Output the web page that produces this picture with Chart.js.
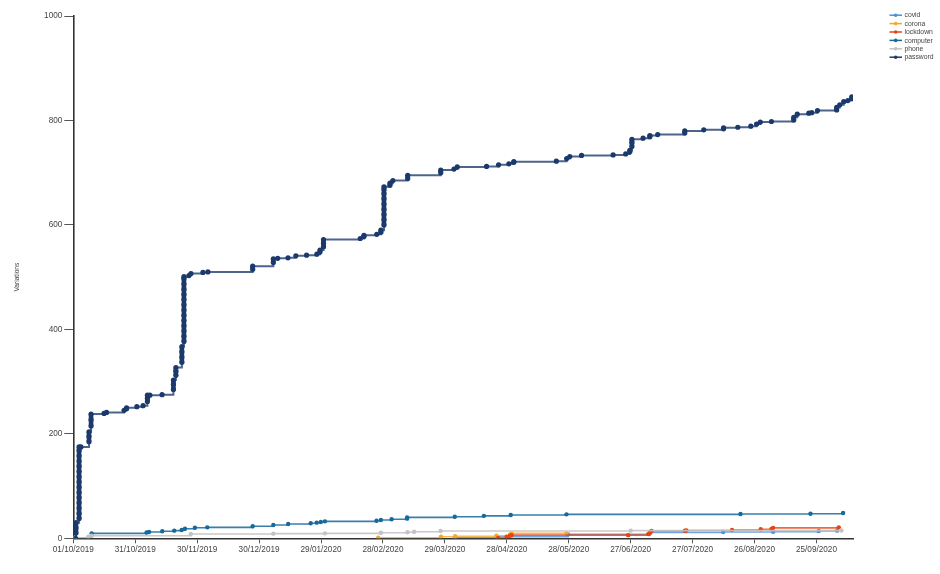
<!DOCTYPE html>
<html>
<head>
<meta charset="utf-8">
<script src="https://cdn.jsdelivr.net/npm/chart.js@4.4.1/dist/chart.umd.min.js"></script>
<style>
  html, body { margin: 0; padding: 0; background: #ffffff; }
  #wrap { width: 940px; height: 574px; position: relative; }
</style>
</head>
<body>
<div id="wrap"><canvas id="c" width="940" height="574"></canvas></div>
<script>
// ---- Data (x = days since 01/10/2019) ----
const seriesNames = ['covid', 'corona', 'lockdown', 'computer', 'phone', 'password'];

const covidDays   = [184.8, 205.0, 239.7, 279.0, 279.5, 314.8, 339.0, 361.1, 370.0];
const covidValues = [1, 3, 7.5, 8, 11, 12, 12.5, 14, 14.6];

const coronaDays   = [147.7, 178.1, 185.0, 205.0, 211.5, 212.3, 238.9];
const coronaValues = [1, 3, 4, 5, 7, 9.5, 9.5];

const lockdownDays   = [205.8, 209.9, 211.5, 212.3, 268.8, 278.5, 279.3, 280.1, 296.2, 297.0, 319.1, 333.0, 338.2, 339.0, 370.8];
const lockdownValues = [0.5, 3, 5, 6, 6, 8, 11, 14, 14.5, 15, 16, 17.2, 18, 20, 21];

const computerDays   = [0.8, 8.9, 35.5, 36.7, 43.1, 48.9, 52.5, 54.1, 58.9, 64.9, 86.9, 96.9, 104.1, 115.0, 117.9, 119.9, 121.9, 146.9, 149.0, 154.2, 161.7, 161.7, 184.8, 198.9, 211.9, 238.9, 323.2, 357.1, 372.9];
const computerValues = [1, 9.5, 11, 12, 13.4, 14.6, 16, 18.4, 20.3, 21, 23, 25.5, 27.4, 28.7, 30, 31.2, 32.5, 33.7, 35, 36.4, 37.6, 40, 41.4, 43, 44.6, 45.9, 46.5, 47, 48.4];

const phoneDays   = [0.8, 7.3, 8.9, 56.9, 96.9, 121.9, 149.0, 161.9, 165.1, 177.9, 270.0, 372.1];
const phoneValues = [1, 3, 5, 8.2, 8.9, 9.5, 10.5, 11.5, 12.5, 14, 14.6, 14.8];

const passwordDays = [
  1.1, 1.3, 1.3, 1.3,
  2.8, 2.8, 2.8, 2.8, 2.8, 2.8, 2.8, 2.8, 2.8, 2.8, 2.8, 2.8, 2.8, 2.8, 2.8,
  3.7, 7.6, 7.6, 7.6, 8.6, 8.6, 8.6,
  14.9, 16.1, 24.6, 25.8, 25.8, 30.8, 33.8,
  35.9, 35.9, 35.9, 37.1, 43.0,
  48.5, 48.5, 48.5, 49.7, 49.7, 49.7,
  52.6, 52.6, 52.6, 52.6,
  53.6, 53.6, 53.6, 53.6, 53.6, 53.6, 53.6, 53.6, 53.6, 53.6, 53.6, 53.6, 53.6, 53.6,
  56.0, 57.0, 62.8, 65.2, 86.9, 86.9,
  96.9, 96.9, 99.0, 104.0, 107.8, 113.0, 118.0, 119.5, 119.5,
  121.2, 121.2, 121.2, 139.0, 140.8, 140.8, 147.0, 149.0, 149.0,
  150.5, 150.5, 150.5, 150.5, 150.5, 150.5, 150.5, 150.5, 150.5,
  153.4, 153.4, 154.8, 162.0, 162.0,
  178.0, 178.0, 184.4, 186.0, 200.2, 206.0, 211.0, 213.4, 213.4,
  234.0, 239.0, 240.5, 246.2, 261.5, 267.6, 269.6, 269.6, 270.6, 270.6, 270.6,
  276.0, 279.3, 279.3, 283.1, 296.2, 296.2, 305.4, 315.0, 315.0,
  321.9, 328.2, 331.0, 332.8, 338.2, 349.0, 349.0, 350.7,
  356.3, 357.7, 360.5, 369.8, 369.8, 371.3, 373.2, 375.2, 377.1, 377.1
];
const passwordValues = [
  0, 10, 20, 30,
  38, 48, 58, 68, 78, 88, 98, 108, 118, 128, 138, 148, 158, 168, 175,
  175, 185, 195, 204, 215, 227, 238,
  239, 241, 245, 248, 250, 252, 254,
  262, 268, 274, 274, 275,
  285, 295, 303, 312, 320, 327,
  337, 347, 357, 367,
  377, 387, 397, 407, 417, 427, 437, 447, 457, 467, 477, 487, 497, 501,
  503, 507, 509, 510, 515, 521,
  528, 535, 536, 537, 541, 542, 544, 548, 552,
  558, 565, 572, 574, 578, 580, 582, 586, 590,
  600, 610, 620, 630, 640, 650, 660, 668, 673,
  676, 680, 685, 689, 695,
  700, 705, 707, 711, 712, 715, 717, 720, 721,
  722, 727, 731, 733, 734, 736, 740, 743, 750, 758, 764,
  766, 769, 771, 773, 776, 780, 782, 784, 786,
  787, 789, 793, 797, 798, 801, 806, 812,
  814, 815, 819, 820, 825, 830, 836, 838, 842, 845
];

const xTickDays   = [0, 30, 60, 90, 120, 150, 180, 210, 240, 270, 300, 330, 360];
const xTickLabels = ['01/10/2019', '31/10/2019', '30/11/2019', '30/12/2019', '29/01/2020', '28/02/2020',
                     '29/03/2020', '28/04/2020', '28/05/2020', '27/06/2020', '27/07/2020', '26/08/2020', '25/09/2020'];
const yTicks = [0, 200, 400, 600, 800, 1000];
const yTitle = 'Variations';

// ---- Styling ----
const colors = ['#4a8fe0', '#f6a72a', '#e8430e', '#17699b', '#c3c3c3', '#1b3a6b'];
const lineAlpha = ['rgba(74,143,224,0.8)', 'rgba(246,167,42,0.8)', 'rgba(232,67,14,0.8)',
                   'rgba(23,105,155,0.85)', 'rgba(195,195,195,0.9)', 'rgba(27,58,107,0.78)'];

const daysList = [covidDays, coronaDays, lockdownDays, computerDays, phoneDays, passwordDays];
const valsList = [covidValues, coronaValues, lockdownValues, computerValues, phoneValues, passwordValues];

const datasets = seriesNames.map((name, i) => ({
  label: name,
  data: daysList[i].map((d, k) => ({ x: d, y: valsList[i][k] })),
  stepped: true,
  borderColor: lineAlpha[i],
  backgroundColor: colors[i],
  pointBackgroundColor: colors[i],
  pointBorderWidth: 0,
  pointRadius: i === 5 ? 2.6 : 2.2,
  borderWidth: i === 5 ? 2 : 1.6,
  segment: {
    borderWidth: ctx => (ctx.p0.parsed.x === ctx.p1.parsed.x ? (i === 5 ? 4.6 : 3) : (i === 5 ? 2 : 1.6)),
    borderColor: ctx => (ctx.p0.parsed.x === ctx.p1.parsed.x ? colors[i] : lineAlpha[i])
  },
  fill: false,
  order: seriesNames.length - i
}));

const FONT = '"Liberation Sans", Arial, sans-serif';

const legendPlugin = {
  id: 'sideLegend',
  afterDraw(chart) {
    const ctx = chart.ctx;
    ctx.save();
    seriesNames.forEach((name, i) => {
      const y = 15.2 + i * 8.4;
      ctx.strokeStyle = colors[i];
      ctx.lineWidth = 1.5;
      ctx.beginPath();
      ctx.moveTo(889.5, y);
      ctx.lineTo(902, y);
      ctx.stroke();
      ctx.fillStyle = colors[i];
      ctx.beginPath();
      ctx.arc(895.7, y, 1.8, 0, Math.PI * 2);
      ctx.fill();
      ctx.fillStyle = '#444';
      ctx.font = '6.8px ' + FONT;
      ctx.textBaseline = 'middle';
      ctx.textAlign = 'left';
      ctx.fillText(name, 904.5, y + 0.3);
    });
    ctx.restore();
  }
};

new Chart(document.getElementById('c'), {
  type: 'line',
  data: { datasets },
  options: {
    responsive: false,
    animation: false,
    events: [],
    layout: { padding: { left: 0, right: 87, top: 16, bottom: 0 } },
    plugins: { legend: { display: false }, tooltip: { enabled: false } },
    scales: {
      x: {
        type: 'linear',
        min: 0,
        max: 377.7,
        afterBuildTicks(scale) { scale.ticks = xTickDays.map(v => ({ value: v })); },
        afterFit(scale) { scale.height = 35.7; },
        ticks: {
          autoSkip: false,
          maxRotation: 0,
          padding: 2,
          color: '#444',
          font: { family: FONT, size: 8.2 },
          callback: (v) => { const k = xTickDays.indexOf(v); return k >= 0 ? xTickLabels[k] : ''; }
        },
        grid: { drawOnChartArea: false, drawTicks: true, tickLength: 5, color: '#555', lineWidth: 1 },
        border: { display: true, color: '#333', width: 1.6 }
      },
      y: {
        min: 0,
        max: 1000,
        afterBuildTicks(scale) { scale.ticks = yTicks.map(v => ({ value: v })); },
        afterFit(scale) { scale.width = 73.3; },
        ticks: {
          padding: 2,
          color: '#444',
          font: { family: FONT, size: 8.2 },
          callback: (v) => String(v)
        },
        title: {
          display: true,
          text: yTitle,
          color: '#444',
          font: { family: FONT, size: 6.6 },
          padding: { top: 13, bottom: 0 }
        },
        grid: { drawOnChartArea: false, drawTicks: true, tickLength: 9, color: '#555', lineWidth: 1 },
        border: { display: true, color: '#333', width: 1.6 }
      }
    }
  },
  plugins: [legendPlugin]
});
</script>
</body>
</html>
